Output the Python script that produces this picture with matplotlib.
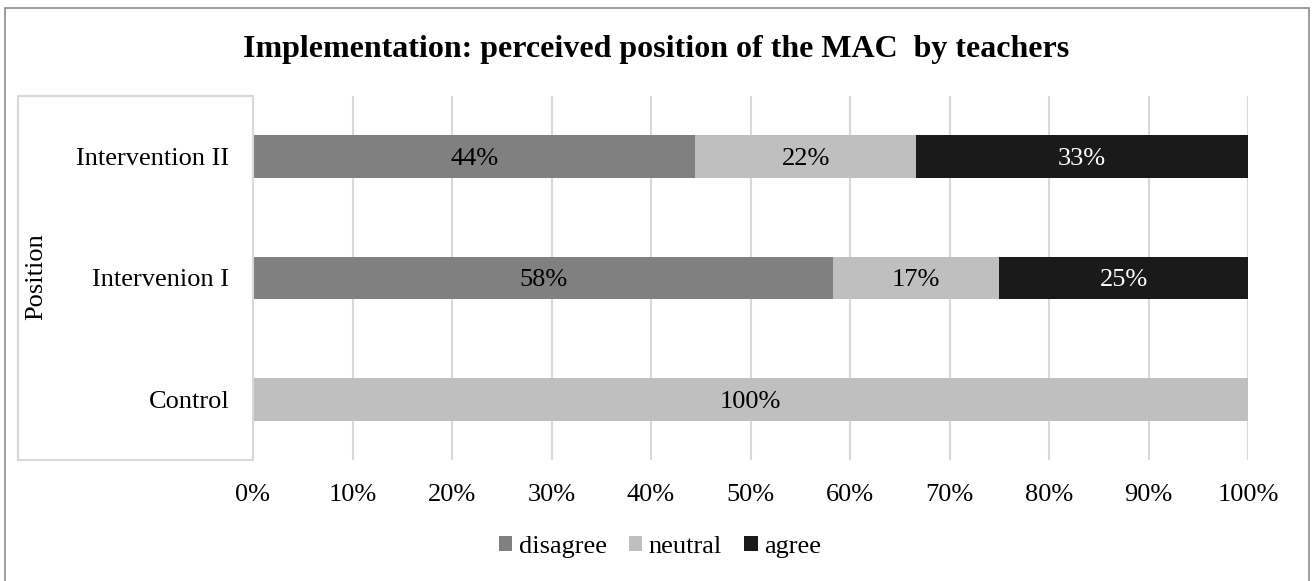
import numpy as np
import matplotlib
matplotlib.use("Agg")
import matplotlib.pyplot as plt
from matplotlib.patches import Patch, Rectangle

plt.rcParams['font.family'] = ['Liberation Serif', 'DejaVu Serif']

# data (bottom to top)
categories = ['Control', 'Intervenion I', 'Intervention II']
disagree = [0.0, 58.33, 44.44]
neutral = [100.0, 16.67, 22.22]
agree = [0.0, 25.0, 33.33]

series_names = ['disagree', 'neutral', 'agree']
colors = ['#808080', '#BFBFBF', '#1A1A1A']
text_colors = ['black', 'black', 'white']

W, H = 1314, 581
fig = plt.figure(figsize=(W / 100, H / 100), dpi=100)
ax = fig.add_axes([253 / W, 1 - 460 / H, 995 / W, 364 / H])

y = np.arange(len(categories))
left = np.zeros(len(categories))
for vals, name, col, tcol in zip([disagree, neutral, agree], series_names, colors, text_colors):
    vals = np.array(vals)
    ax.barh(y, vals, left=left, height=0.35, color=col, label=name, zorder=3)
    # value labels in the middle of each segment
    for yi, l, v in zip(y, left, vals):
        if v > 0:
            ax.text(l + v / 2, yi, f'{v:.0f}%', ha='center', va='center_baseline',
                    color=tcol, fontsize=19, zorder=4)
    left += vals

ax.set_xlim(0, 100)
ax.set_ylim(-0.5, 2.5)
ax.set_xticks(np.arange(0, 101, 10))
ax.set_xticklabels([f'{t}%' for t in range(0, 101, 10)])
ax.set_yticks(y)
ax.set_yticklabels(categories)
ax.tick_params(axis='both', length=0, labelsize=19)
ax.tick_params(axis='x', pad=17)
ax.tick_params(axis='y', pad=17)
ax.grid(axis='x', color='#D9D9D9', linewidth=1.5, zorder=0)
ax.set_axisbelow(True)
for s in ax.spines.values():
    s.set_visible(False)

fig.text(36 / W, 1 - 277 / H, 'Position', rotation=90, ha='center', va='center', fontsize=19)

fig.suptitle('Implementation: perceived position of the MAC  by teachers',
             x=656 / W, y=1 - 50 / H, ha='center', va='center',
             fontsize=23, fontweight='bold')

# light frame around category area
fig.patches.append(Rectangle((18 / W, 1 - 460 / H), 235 / W, 364 / H, transform=fig.transFigure,
                             fill=False, edgecolor='#D9D9D9', linewidth=1.5))
# outer border
fig.patches.append(Rectangle((5 / W, -0.01), 1304 / W, 1 - 8 / H + 0.01, transform=fig.transFigure,
                             fill=False, edgecolor='#8C8C8C', linewidth=1.2))

handles = [Patch(facecolor=c, edgecolor='none', label=n) for c, n in zip(colors, series_names)]
fig.legend(handles=handles, loc='center', bbox_to_anchor=(660 / W, 1 - 547 / H), ncol=3,
           frameon=False, fontsize=19, handlelength=0.5, handleheight=0.5,
           handletextpad=0.25, columnspacing=0.85)

fig.savefig('out.png', dpi=100)
